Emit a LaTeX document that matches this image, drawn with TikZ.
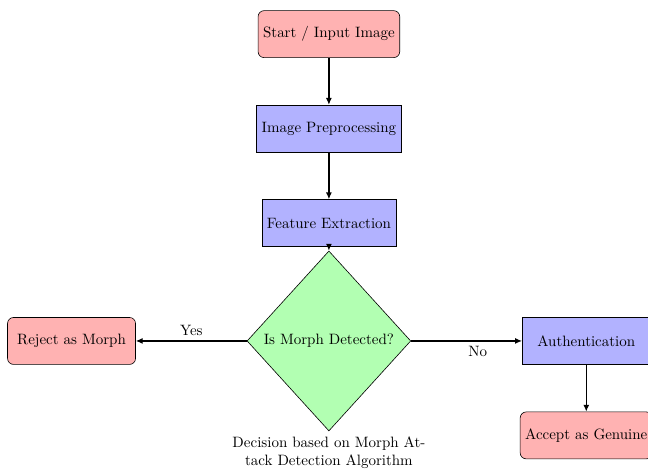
\documentclass[tikz,border=0pt]{standalone}
\usepackage{tikz}
\usetikzlibrary{arrows.meta, positioning, shapes.geometric}

\begin{document}
\begin{tikzpicture}[
    node distance=1.1cm,
    startstop/.style={rectangle, rounded corners, minimum width=3cm, minimum height=1.1cm, draw=black, fill=red!30, text centered},
    process/.style={rectangle, minimum width=3cm, minimum height=1.1cm, draw=black, fill=blue!30, text centered},
    decision/.style={diamond, minimum width=3.82cm, minimum height=4.22cm, draw=black, fill=green!30, text centered},
    arrow/.style={thick, -{Latex[length=1.6mm, width=1.4mm]}}
  ]
    \useasboundingbox (0,0) rectangle (15.19,-11.11);
    \clip (0,0) rectangle (15.19,-11.11);

    \node[startstop] (start) at (7.71,-0.80) {Start / Input Image};
    \node[process, below=of start] (prep) {Image Preprocessing};
    \node[process, below=of prep] (feat) {Feature Extraction};
    \node[decision, below=0.09cm of feat] (dec) {Is Morph Detected?};
    \node[below=0pt of dec, align=center] (note) {Decision based on Morph At-\\tack Detection Algorithm};
    \node[startstop, left=2.6cm of dec] (reject) {Reject as Morph};
    \node[process, right=2.6cm of dec] (auth) {Authentication};
    \node[startstop, below=of auth] (accept) {Accept as Genuine};

    \draw[arrow] (start) -- (prep);
    \draw[arrow] (prep) -- (feat);
    \draw[arrow] (feat) -- (dec);
    \draw[arrow] (dec) -- node[above] {Yes} (reject);
    \draw[arrow] (dec) -- node[below, pos=0.6] {No} (auth);
    \draw[arrow] (auth) -- (accept);

  \end{tikzpicture}
\end{document}
